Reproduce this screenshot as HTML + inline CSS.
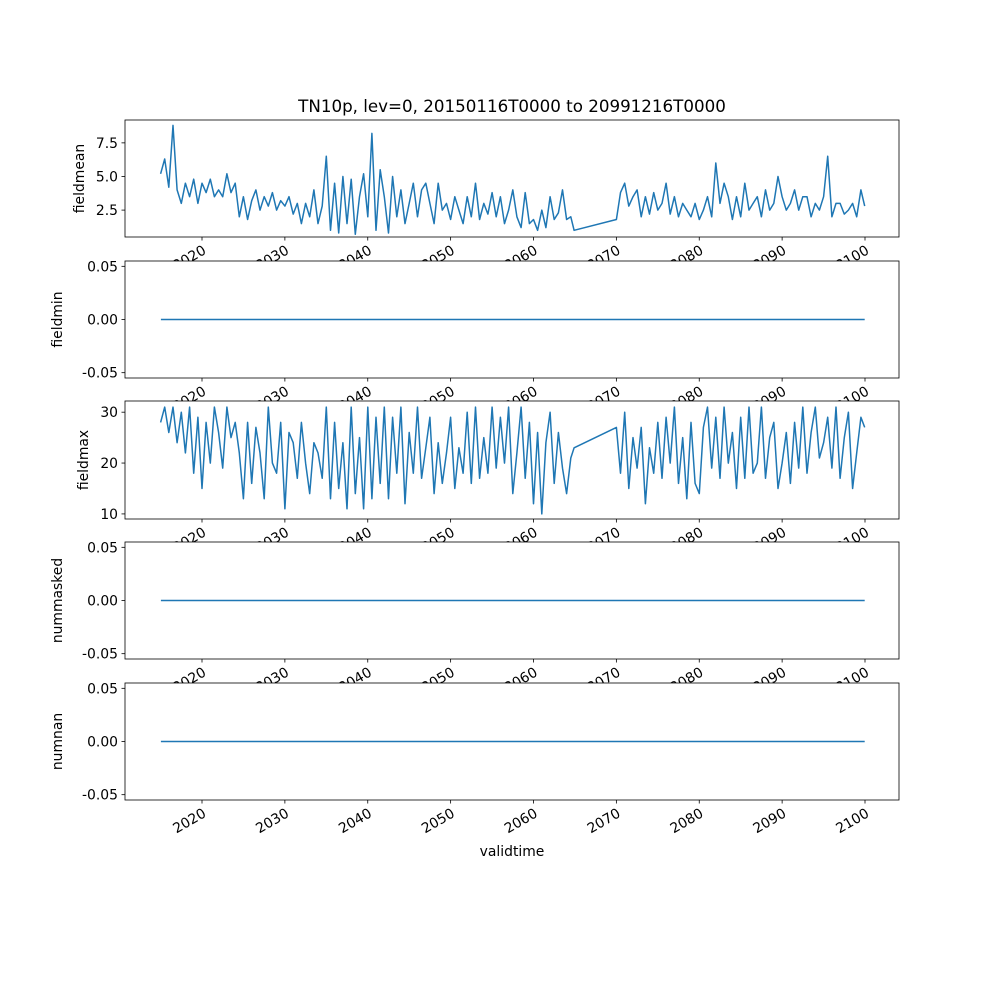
<!DOCTYPE html>
<html><head><meta charset="utf-8">
<style>
html,body{margin:0;padding:0;background:#fff;}
svg text{font-family:"DejaVu Sans","Liberation Sans",sans-serif;fill:#000;}
</style></head>
<body>
<svg id="chart" width="1000" height="1000" viewBox="0 0 1000 1000" xmlns="http://www.w3.org/2000/svg">
<rect x="0" y="0" width="1000" height="1000" fill="#fff"/>
<text x="512" y="112" font-size="16.7" text-anchor="middle">TN10p, lev=0, 20150116T0000 to 20991216T0000</text>
</svg>
<script>
const xTicks = [2020, 2030, 2040, 2050, 2060, 2070, 2080, 2090, 2100];
const meanA = [5.2,6.3, 4.2,8.8, 4.0,3.0, 4.5,3.5, 4.8,3.0, 4.5,3.8, 4.8,3.5, 4.0,3.5, 5.2,3.8, 4.5,2.0,
 3.5,1.8, 3.2,4.0, 2.5,3.5, 2.8,3.8, 2.5,3.2, 2.8,3.5, 2.2,3.0, 1.5,3.0, 2.0,4.0, 1.5,2.8,
 6.5,1.0, 4.5,0.8, 5.0,1.5, 4.8,0.7, 3.5,5.2, 2.0,8.2, 1.0,5.5, 3.5,0.8, 5.0,2.0, 4.0,1.5,
 3.0,4.5, 2.0,4.0, 4.5,3.0, 1.5,4.5, 2.5,3.0, 1.8,3.5, 2.5,1.5, 3.5,2.0, 4.5,1.8, 3.0,2.2,
 3.8,2.0, 3.5,1.5, 2.5,4.0, 2.0,1.2, 3.8,1.5, 1.8,1.0, 2.5,1.2, 3.5,1.8, 2.3,4.0, 1.8,2.0, 1.0];
const meanB = [1.8,3.8, 4.5,2.8, 3.5,4.0, 2.0,3.5, 2.2,3.8, 2.5,3.0, 4.5,2.2, 3.5,2.0, 3.0,2.5, 2.0,3.0,
 1.8,2.5, 3.5,2.0, 6.0,3.0, 4.5,3.5, 1.8,3.5, 2.0,4.5, 2.5,3.0, 3.5,2.0, 4.0,2.5, 3.0,5.0,
 3.5,2.5, 3.0,4.0, 2.5,3.5, 3.5,2.0, 3.0,2.5, 3.5,6.5, 2.0,3.0, 3.0,2.2, 2.5,3.0, 2.0,4.0, 2.8];
const maxA = [28,31, 26,31, 24,30, 22,31, 18,29, 15,28, 20,31, 26,19, 31,25, 28,22,
 13,28, 16,27, 22,13, 31,20, 18,28, 11,26, 24,17, 28,20, 14,24, 22,17,
 31,13, 28,15, 24,11, 31,14, 25,11, 31,13, 29,16, 31,13, 29,18, 31,12,
 26,18, 31,17, 23,29, 14,24, 16,22, 29,15, 23,18, 30,16, 31,17, 25,18,
 31,19, 29,20, 31,14, 22,31, 17,28, 12,26, 10,24, 30,16, 26,19, 14,21, 23];
const maxB = [27,18, 30,15, 25,19, 27,12, 23,18, 28,17, 29,20, 31,16, 25,13, 28,16,
 14,27, 31,19, 29,17, 31,20, 26,15, 29,17, 31,18, 20,31, 17,25, 28,15,
 20,26, 16,28, 19,31, 18,26, 31,21, 24,29, 19,31, 17,25, 30,15, 22,29, 27];
const zeroVals = [0, 0];
const zeroTimes = [2015.04, 2099.96];

const NS = 'http://www.w3.org/2000/svg';
const svg = document.getElementById('chart');
const X0 = 125, X1 = 899;
function xs(t){ return 202 + (t - 2020) * (865 - 202) / 80; }
function times(arr, start){ return arr.map((v,i)=> i === arr.length-1 ? start + (arr.length-2)*0.5 + 0.4 : start + i*0.5); }
function mk(tag, attrs, parent){ const e = document.createElementNS(NS, tag); for (const k in attrs) e.setAttribute(k, attrs[k]); (parent||svg).appendChild(e); return e; }

const panels = [
 {name:'fieldmean', top:120, bot:237, ymin:0.5, ymax:9.2, yt:[2.5,5.0,7.5], fmt:v=>v.toFixed(1),
  t: times(meanA,2015).concat(times(meanB,2070).map((t,i,a)=> i===a.length-1 ? 2099.96 : t)), v: meanA.concat(meanB), lx:84},
 {name:'fieldmin', top:261, bot:378, ymin:-0.055, ymax:0.055, yt:[-0.05,0,0.05], fmt:v=>v.toFixed(2), t:zeroTimes, v:zeroVals, lx:62},
 {name:'fieldmax', top:401, bot:519, ymin:9, ymax:32.2, yt:[10,20,30], fmt:v=>String(v),
  t: times(maxA,2015).concat(times(maxB,2070).map((t,i,a)=> i===a.length-1 ? 2099.96 : t)), v: maxA.concat(maxB), lx:88},
 {name:'nummasked', top:542, bot:659, ymin:-0.055, ymax:0.055, yt:[-0.05,0,0.05], fmt:v=>v.toFixed(2), t:zeroTimes, v:zeroVals, lx:62},
 {name:'numnan', top:683, bot:800, ymin:-0.055, ymax:0.055, yt:[-0.05,0,0.05], fmt:v=>v.toFixed(2), t:zeroTimes, v:zeroVals, lx:62}
];

panels.forEach((p, pi) => {
  const g = mk('g', {});
  
  
  const ys = v => p.bot - (v - p.ymin) * (p.bot - p.top) / (p.ymax - p.ymin);
  mk('rect', {x:X0, y:p.top, width:X1-X0, height:p.bot-p.top, fill:'#fff'}, g);
  let d = '';
  p.t.forEach((t,i)=>{ d += (i?'L':'M') + xs(t).toFixed(1) + ',' + ys(p.v[i]).toFixed(1); });
  const line = mk('path', {d:d, fill:'none', stroke:'#1f77b4', 'stroke-width':1.5, 'stroke-linejoin':'round'}, g);
  
  
  mk('rect', {x:X0, y:p.top, width:X1-X0, height:p.bot-p.top, fill:'none', stroke:'#000', 'stroke-width':0.8}, g);
  p.yt.forEach(v => {
    const y = ys(v);
    mk('line', {x1:X0-3.5, x2:X0, y1:y, y2:y, stroke:'#000', 'stroke-width':0.8}, g);
    const tx = mk('text', {x:X0-7, y:y+5, 'font-size':13.9, 'text-anchor':'end'}, g);
    tx.textContent = p.fmt(v);
    
    
  });
  xTicks.forEach(v => {
    const x = xs(v);
    mk('line', {x1:x, x2:x, y1:p.bot, y2:p.bot+3.5, stroke:'#000', 'stroke-width':0.8}, g);
    const tx = mk('text', {x:0, y:0, 'font-size':13.9, 'text-anchor':'end', transform:'translate(' + (x+5) + ',' + (p.bot+16) + ') rotate(-30)'}, g);
    tx.textContent = String(v);
    
    
  });
  const yl = mk('text', {x:0, y:0, 'font-size':13.9, 'text-anchor':'middle', transform:'translate(' + p.lx + ',' + ((p.top+p.bot)/2) + ') rotate(-90)'}, g);
  yl.textContent = p.name;
  
  
});
const xl = mk('text', {x:512, y:856, 'font-size':13.9, 'text-anchor':'middle'});
xl.textContent = 'validtime';


</script>
</body></html>
